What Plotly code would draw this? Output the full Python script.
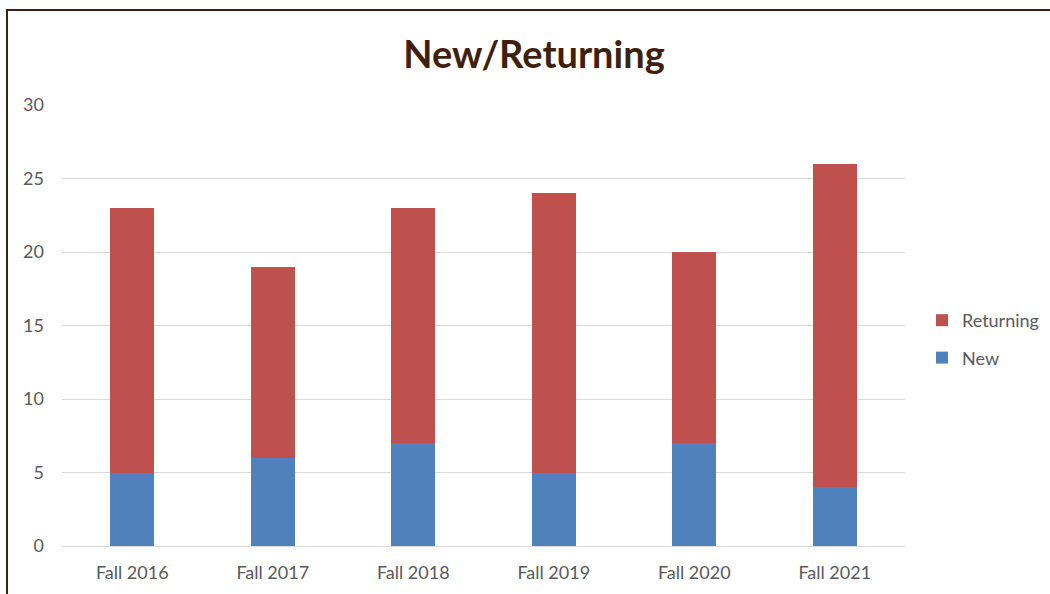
import plotly.graph_objects as go

categories = ["Fall 2016", "Fall 2017", "Fall 2018", "Fall 2019", "Fall 2020", "Fall 2021"]
new_vals = [5, 6, 7, 5, 7, 4]
returning_vals = [18, 13, 16, 19, 13, 22]
y_ticks = [0, 5, 10, 15, 20, 25, 30]

W, H = 1050, 594
L, R, T, B = 62, 145, 105, 48
pw = W - L - R
ph = H - T - B

fig = go.Figure()
fig.add_trace(go.Bar(x=categories, y=new_vals, name="New", marker_color="#4F81BD",
                     marker_line_width=0, legendgroup="new", legendrank=2))
fig.add_trace(go.Bar(x=categories, y=returning_vals, name="Returning", marker_color="#C0504D",
                     marker_line_width=0, legendgroup="ret", legendrank=1))

font_family = "Lato, Open Sans, sans-serif"
fig.update_layout(
    width=W, height=H,
    barmode="stack",
    bargap=0.69,
    margin=dict(l=L, r=R, t=T, b=B, autoexpand=False),
    paper_bgcolor="white",
    plot_bgcolor="white",
    font=dict(family=font_family, size=18, color="#595959"),
    title=dict(text="<b>New/Returning</b>", x=534 / W, xref="container", xanchor="center",
               y=1 - 55 / H, yanchor="middle", yref="container",
               font=dict(family=font_family, size=38, color="#3F1F10")),
    legend=dict(traceorder="grouped", xref="container", yref="container",
                x=922 / W, xanchor="left", y=1 - 302 / H, yanchor="top",
                font=dict(size=18, color="#595959"), itemwidth=30, tracegroupgap=11),
    showlegend=True,
)
fig.update_xaxes(showgrid=False, showline=True, linecolor="#D9D9D9", linewidth=1, ticks="",
                 ticklabelstandoff=10, automargin=False)
fig.update_yaxes(range=[0, 30], tickvals=y_ticks, showgrid=True, gridcolor="#D9D9D9", gridwidth=1,
                 zeroline=False, showline=False, ticks="", ticklabelstandoff=17, automargin=False)

# outer border
fig.add_shape(type="rect", xref="paper", yref="paper",
              x0=(7 - L) / pw, x1=(W + 20 - L) / pw,
              y0=(H - B - (H + 20)) / ph, y1=(H - B - 10) / ph,
              line=dict(color="#3F1F10", width=2), fillcolor="rgba(0,0,0,0)", layer="below")

fig.write_html("out.html", config={"displayModeBar": False},
               post_script="document.body.style.margin='0';document.body.style.overflow='hidden';")
